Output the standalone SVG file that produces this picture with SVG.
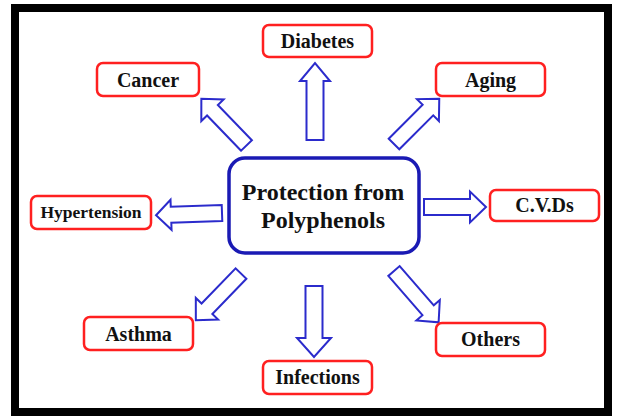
<svg xmlns="http://www.w3.org/2000/svg" width="617" height="416" viewBox="0 0 617 416">
<style>
.frame{fill:#fff;stroke:#000;stroke-width:8}
.box{fill:#fff;stroke:#ff2020;stroke-width:2.5}
.center{fill:#fff;stroke:#1a1ab4;stroke-width:3.5}
.lbl{font-family:"Liberation Serif","Times New Roman",serif;font-weight:bold;font-size:20px;fill:#111;text-anchor:middle}
.ctr{font-family:"Liberation Serif","Times New Roman",serif;font-weight:bold;font-size:24px;fill:#111;text-anchor:middle}
.arr{fill:#fff;stroke:#2b2bcc;stroke-width:2;stroke-linejoin:miter}
</style>
<rect class="frame" x="15" y="8" width="593" height="404"/>
<g id="connectors">
<path class="arr" transform="translate(315,140) rotate(-90)" d="M0,-8.5 L59,-8.5 L59,-15 L77,0 L59,15 L59,8.5 L0,8.5 Z"/>
<path class="arr" transform="translate(246.5,145.5) rotate(-134)" d="M0,-7.5 L49,-7.5 L49,-15.5 L65,0 L49,15.5 L49,7.5 L0,7.5 Z"/>
<path class="arr" transform="translate(394,144) rotate(-45)" d="M0,-7.5 L48,-7.5 L48,-15.5 L64,0 L48,15.5 L48,7.5 L0,7.5 Z"/>
<path class="arr" transform="translate(222,213) rotate(178)" d="M0,-8 L51,-8 L51,-15 L66,0 L51,15 L51,8 L0,8 Z"/>
<path class="arr" transform="translate(424,207) rotate(0)" d="M0,-8 L46,-8 L46,-15.5 L62,0 L46,15.5 L46,8 L0,8 Z"/>
<path class="arr" transform="translate(241,273.5) rotate(134)" d="M0,-7.5 L49,-7.5 L49,-15.5 L65,0 L49,15.5 L49,7.5 L0,7.5 Z"/>
<path class="arr" transform="translate(314,286) rotate(90)" d="M0,-8.5 L52,-8.5 L52,-17 L71,0 L52,17 L52,8.5 L0,8.5 Z"/>
<path class="arr" transform="translate(394,271) rotate(49)" d="M0,-7.5 L52,-7.5 L52,-15.5 L68,0 L52,15.5 L52,7.5 L0,7.5 Z"/>
</g>
<g id="center">
<rect class="center" x="229" y="158" width="190" height="95" rx="16"/>
<text class="ctr" x="323" y="200">Protection from</text>
<text class="ctr" x="323" y="228">Polyphenols</text>
</g>
<g id="diabetes">
<rect class="box" x="263" y="25" width="109" height="32" rx="6"/>
<text class="lbl" x="317.5" y="48">Diabetes</text>
</g>
<g id="cancer">
<rect class="box" x="97" y="63" width="102" height="33" rx="6"/>
<text class="lbl" x="148" y="87">Cancer</text>
</g>
<g id="aging">
<rect class="box" x="436" y="63" width="109" height="33" rx="6"/>
<text class="lbl" x="490.5" y="87">Aging</text>
</g>
<g id="hypertension">
<rect class="box" x="31" y="196" width="120" height="33" rx="6"/>
<text class="lbl" x="91" y="218" style="font-size:17.5px">Hypertension</text>
</g>
<g id="cvds">
<rect class="box" x="490" y="190" width="109" height="31" rx="6"/>
<text class="lbl" x="544.5" y="212">C.V.Ds</text>
</g>
<g id="asthma">
<rect class="box" x="84" y="317" width="109" height="33" rx="6"/>
<text class="lbl" x="138.5" y="341">Asthma</text>
</g>
<g id="infections">
<rect class="box" x="263" y="361" width="109" height="33" rx="6"/>
<text class="lbl" x="317.5" y="384">Infections</text>
</g>
<g id="others">
<rect class="box" x="436" y="323" width="109" height="33" rx="6"/>
<text class="lbl" x="490.5" y="346">Others</text>
</g>
</svg>
